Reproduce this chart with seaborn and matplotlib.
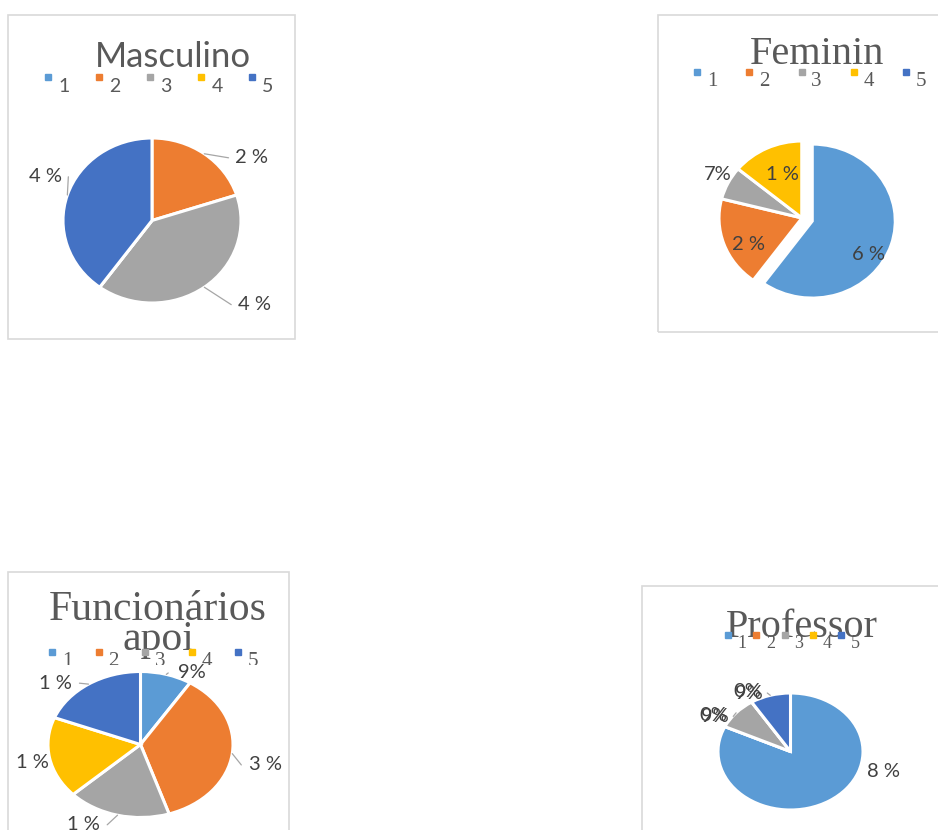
import numpy as np
import matplotlib
matplotlib.use("Agg")
import matplotlib.pyplot as plt
from matplotlib.patches import Rectangle
from matplotlib.transforms import Bbox, TransformedBbox
import seaborn as sns

# data (shares in %)
categories = ["1", "2", "3", "4", "5"]
masculino = [0, 20, 40, 0, 40]
feminino = [60, 19, 7, 14, 0]
funcionarios = [9, 36, 18, 18, 19]
professor = [82, 0, 9, 0, 9]

masculino_labels = ["", "2 %", "4 %", "", "4 %"]
feminino_labels = ["6 %", "2 %", "7%", "1 %", ""]
funcionarios_labels = ["9%", "3 %", "1 %", "1 %", "1 %"]
professor_labels = ["8 %", "0%", "9%", "0%", "9%"]

titles = ["Masculino", "Feminin", "Funcionários\napoi", "Professor"]

sns.set_theme(style="white")
palette = sns.color_palette(["#5B9BD5", "#ED7D31", "#A5A5A5", "#FFC000", "#4472C4"])
plt.rcParams["font.family"] = ["Lato", "DejaVu Sans"]

W, H = 938, 830
fig = plt.figure(figsize=(W / 100, H / 100), dpi=100)


def fx(x):
    return x / W


def fy(y):
    return 1 - y / H


def clip_below(t, y):
    t.set_clip_box(TransformedBbox(Bbox([[0, fy(y)], [1, 1]]), fig.transFigure))
    t.set_clip_on(True)


# layout of each panel, in pixels
panels = [
    dict(values=masculino, labels=masculino_labels, title=titles[0],
         box=(8, 15, 295, 339), center=(152, 220.5), rx=89, ry=82.5, explode=None,
         title_xy=(173, 57), title_font=["Lato"], title_size=25,
         leg_x=48, leg_step=51, leg_y=77, leg_dx=16, leg_size=14, leg_font=["Lato"], leg_clip=None,
         lab_pos=[None, (1.12, 0.76), (1.15, -1.02), None, (-1.2, 0.53)],
         leaders=[False, True, True, False, True]),
    dict(values=feminino, labels=feminino_labels, title=titles[1],
         box=(658, 15, 960, 332), center=(802, 218), rx=83, ry=77, explode=[0.13, 0, 0, 0, 0],
         title_xy=(817, 55), title_font=["Liberation Serif"], title_size=29,
         leg_x=697, leg_step=52.3, leg_y=72, leg_dx=15, leg_size=15, leg_font=["Liberation Serif"], leg_clip=89,
         lab_pos=[(0.80, -0.48), (-0.65, -0.35), (-1.01, 0.56), (-0.23, 0.56), None],
         leaders=[False] * 5),
    dict(values=funcionarios, labels=funcionarios_labels, title=titles[2],
         box=(8, 572, 289, 860), center=(140.5, 744.5), rx=92.5, ry=73, explode=None,
         title_xy=(158, 625), title_font=["Liberation Serif"], title_size=30,
         leg_x=52, leg_step=46.5, leg_y=652, leg_dx=15, leg_size=15, leg_font=["Liberation Serif"], leg_clip=665,
         lab_pos=[(0.56, 0.98), (1.35, -0.28), (-0.62, -1.10), (-1.17, -0.25), (-0.92, 0.84)],
         leaders=[True, True, True, False, True]),
    dict(values=professor, labels=professor_labels, title=titles[3],
         box=(642, 586, 960, 860), center=(790.5, 751.5), rx=72.5, ry=58.5, explode=None,
         title_xy=(802, 627), title_font=["Liberation Serif"], title_size=29,
         leg_x=728, leg_step=28.3, leg_y=635, leg_dx=14, leg_size=13, leg_font=["Liberation Serif"], leg_clip=648,
         lab_pos=[(1.28, -0.35), (-1.07, 0.62), (-1.05, 0.60), (-0.60, 1.02), (-0.58, 1.00)],
         leaders=[False, False, True, False, True]),
]

L = 1.6
for p in panels:
    x0, y0, x1, y1 = p["box"]
    fig.patches.append(Rectangle((fx(x0), fy(y1)), (x1 - x0) / W, (y1 - y0) / H,
                                 transform=fig.transFigure, fill=False,
                                 edgecolor="#D9D9D9", linewidth=1.2))

    # title first, legend drawn over it
    fig.text(fx(p["title_xy"][0]), fy(p["title_xy"][1]), p["title"], ha="center", va="center",
             fontsize=p["title_size"], color="#595959", family=p["title_font"] + ["DejaVu Sans"],
             linespacing=0.72, zorder=1)

    for i, cat in enumerate(categories):
        mx = p["leg_x"] + i * p["leg_step"]
        fig.patches.append(Rectangle((fx(mx - 3), fy(p["leg_y"] + 3)), 6 / W, 6 / H,
                                     transform=fig.transFigure, color=palette[i], zorder=3))
        t = fig.text(fx(mx + p["leg_dx"]), fy(p["leg_y"] + 9), cat, ha="center", va="center",
                     fontsize=p["leg_size"], color="#595959", family=p["leg_font"] + ["DejaVu Sans"],
                     zorder=3)
        if p["leg_clip"]:
            clip_below(t, p["leg_clip"])

    cx, cy = p["center"]
    rx, ry = p["rx"], p["ry"]
    ax = fig.add_axes([fx(cx - L * rx), fy(cy + L * ry), 2 * L * rx / W, 2 * L * ry / H])
    wedges, _ = ax.pie(p["values"], colors=palette, startangle=90, counterclock=False,
                       explode=p["explode"], radius=1,
                       wedgeprops=dict(edgecolor="white", linewidth=2.2))
    ax.set_xlim(-L, L)
    ax.set_ylim(-L, L)
    ax.set_aspect("auto")
    ax.axis("off")

    for w, lab, pos, lead in zip(wedges, p["labels"], p["lab_pos"], p["leaders"]):
        if pos is None or not lab:
            continue
        ax.text(pos[0], pos[1], lab, ha="center", va="center", fontsize=14.5,
                color="#404040", clip_on=False)
        if lead:
            mid = np.deg2rad((w.theta1 + w.theta2) / 2)
            sx = w.center[0] + np.cos(mid)
            sy = w.center[1] + np.sin(mid)
            ex = pos[0] - 0.26 * np.sign(pos[0])
            ax.plot([sx, ex], [sy, pos[1]], color="#A6A6A6", linewidth=0.9, clip_on=False)

fig.savefig("out.png", dpi=100)
